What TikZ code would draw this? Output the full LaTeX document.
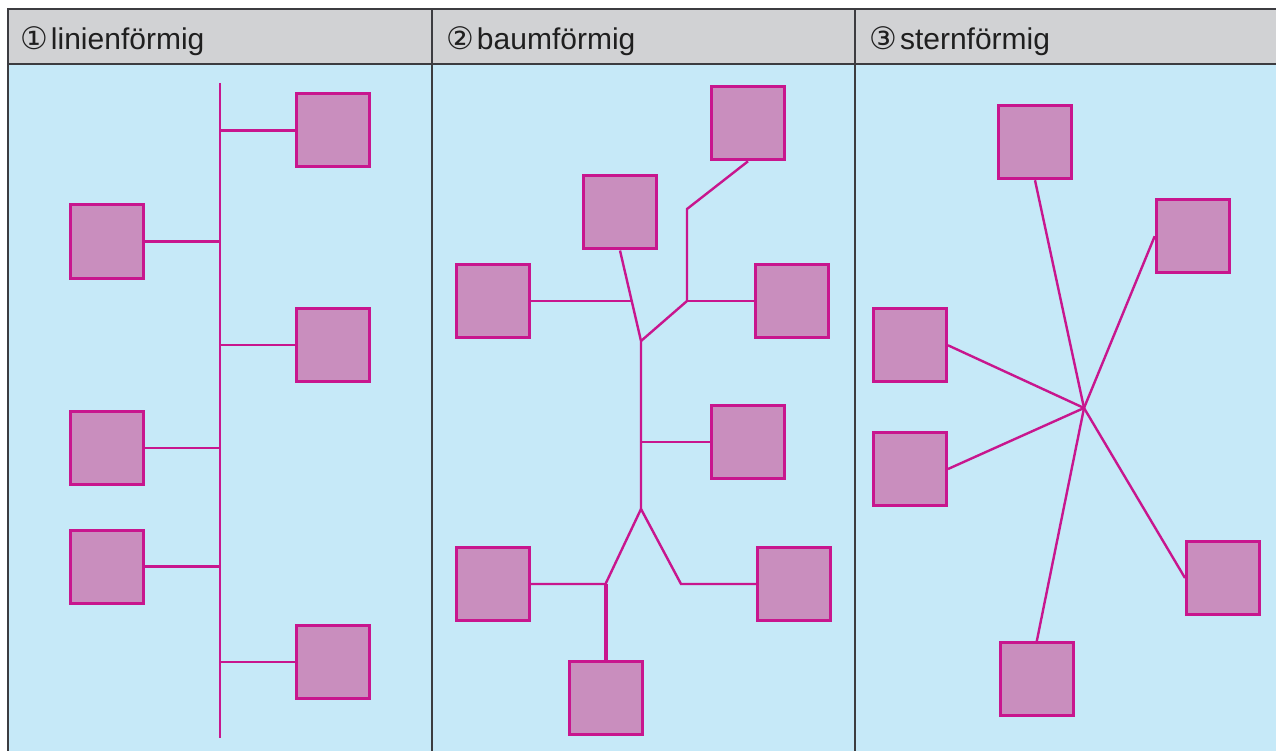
\documentclass[tikz,border=0pt]{standalone}
\usepackage{fontspec}
\setmainfont{Liberation Sans}
\newfontfamily\symbfont{DejaVu Sans}
\definecolor{kopfgrau}{HTML}{D1D2D4}
\definecolor{feldblau}{HTML}{C6E9F8}
\definecolor{rahmen}{HTML}{3C3C40}
\definecolor{netz}{HTML}{C8168E}
\definecolor{knoten}{HTML}{C98EBE}
\begin{document}
\begin{tikzpicture}[x=1pt, y=-1pt,
  station/.style={draw=netz, fill=knoten, line width=3pt, rectangle, minimum size=73pt, inner sep=0pt},
  link/.style={draw=netz, line width=2.4pt},
  thicklink/.style={draw=netz, line width=4pt},
  titel/.style={anchor=base west, inner sep=0pt, text=black!88, font=\fontsize{30}{36}\selectfont}]
  \useasboundingbox (0,0) rectangle (1276,751);
  % frame and header
  \fill [feldblau] (8,64) rectangle (1280,755);
  \fill [kopfgrau] (8,9) rectangle (1280,64);
  \draw [rahmen, line width=2pt] (1280,9) -- (8,9) -- (8,755);
  \draw [rahmen, line width=2pt] (8,64) -- (1280,64);
  \draw [rahmen, line width=1.5pt] (432,9) -- (432,755);
  \draw [rahmen, line width=1.5pt] (855,9) -- (855,755);
  \node [titel] (t1) at (20,50) {{\symbfont\fontsize{31}{36}\selectfont ①}\hspace{3pt}linienförmig};
  \node [titel] (t2) at (446,50) {{\symbfont\fontsize{31}{36}\selectfont ②}\hspace{3pt}baumförmig};
  \node [titel] (t3) at (869,50) {{\symbfont\fontsize{31}{36}\selectfont ③}\hspace{3pt}sternförmig};

  % 1: linienfoermig
  \coordinate (bt) at (220,83);
  \coordinate (bb) at (220,738);
  \node [station] (r1) at (332.5,130.5) {};
  \node [station] (r2) at (332.5,345) {};
  \node [station] (r3) at (332.5,662) {};
  \node [station] (l1) at (107,241.5) {};
  \node [station] (l2) at (107,448) {};
  \node [station] (l3) at (107,566.5) {};
  \draw [link] (bt) -- (bb);
  \foreach \n in {r1,r2,r3}
    \draw [link] (\n.west) -- (\n.west -| bt);
  \foreach \n in {l1,l2,l3}
    \draw [link] (\n.east) -- (\n.east -| bt);

  % 2: baumfoermig
  \node [station] (b1) at (748,123.3) {};
  \node [station] (b2) at (620,212.5) {};
  \node [station] (b3) at (493,301) {};
  \node [station] (b4) at (791.7,301) {};
  \node [station] (b5) at (748,442) {};
  \node [station] (b6) at (492.5,584) {};
  \node [station] (b7) at (794,584) {};
  \node [station] (b8) at (605.5,697.5) {};
  \coordinate (k1) at (687,209);
  \coordinate (k2) at (687,301);
  \coordinate (k3) at (641,341);
  \coordinate (k4) at (641,509);
  \coordinate (k5) at (605.5,584);
  \coordinate (k6) at (681,584);
  \coordinate (k7) at (631.7,301);
  \draw [link] (b1.south) -- (k1) -- (k2) -- (k3);
  \draw [link] (k2) -- (b4.west);
  \draw [link] (b2.south) -- (k3) -- (k4);
  \draw [link] (b3.east) -- (k7);
  \draw [link] (b5.west) -- (b5.west -| k4);
  \draw [link] (b6.east) -- (k5) -- (k4) -- (k6) -- (b7.west);
  \draw [thicklink] (k5) -- (b8.north);

  % 3: sternfoermig
  \coordinate (m) at (1084,408);
  \node [station] (s1) at (1035,142.3) {};
  \node [station] (s2) at (1192.7,236.2) {};
  \node [station] (s3) at (910,345.3) {};
  \node [station] (s4) at (910,469) {};
  \node [station] (s5) at (1223,578) {};
  \node [station] (s6) at (1036.8,679) {};
  \draw [link] (m) -- (s1.south);
  \draw [link] (m) -- (s2.west);
  \draw [link] (m) -- (s3.east);
  \draw [link] (m) -- (s4.east);
  \draw [link] (m) -- (s5.west);
  \draw [link] (m) -- (s6.north);
\end{tikzpicture}
\end{document}
